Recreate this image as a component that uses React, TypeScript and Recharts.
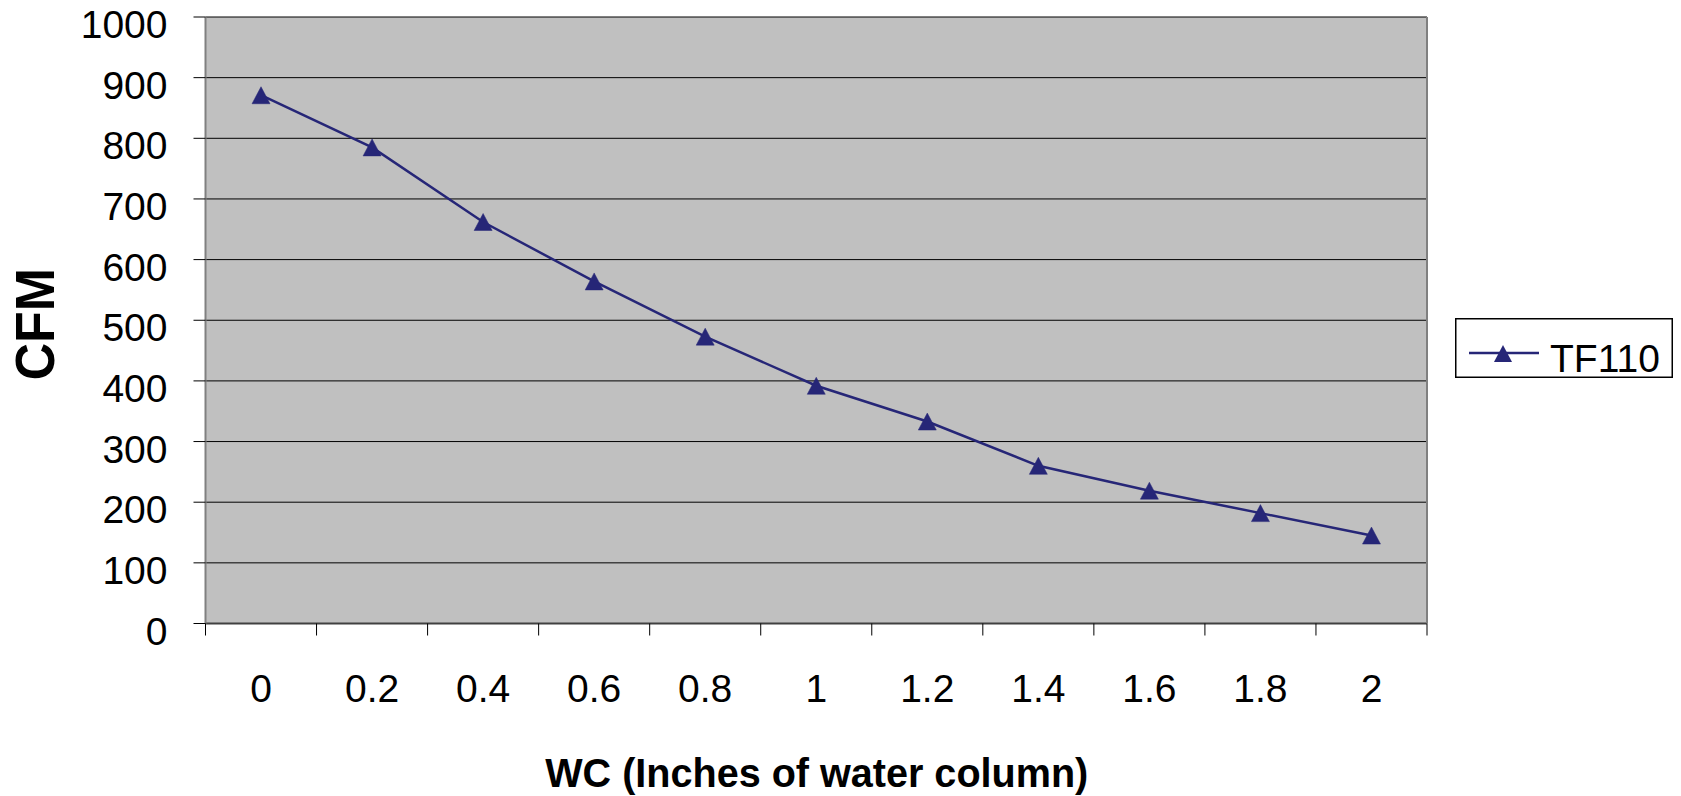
import React from 'react'
import {
  LineChart,
  Line,
  XAxis,
  YAxis,
  CartesianGrid,
  Legend,
  Label,
} from 'recharts'

// WC (inches of water column) categories and CFM readings for TF110
const wcLabels = ['0', '0.2', '0.4', '0.6', '0.8', '1', '1.2', '1.4', '1.6', '1.8', '2']
const tf110Cfm = [871, 785, 662, 564, 473, 392, 333, 260, 219, 182, 145]
const cfmTicks = [0, 100, 200, 300, 400, 500, 600, 700, 800, 900, 1000]
const seriesName = 'TF110'

const data = wcLabels.map((wc, i) => ({ wc, cfm: tf110Cfm[i] }))

const FONT = "'Liberation Sans', Arial, sans-serif"
const NAVY = '#262677'

const TriangleDot = (props: any) => {
  const { cx, cy, index } = props
  if (cx == null || cy == null) return <g key={index} />
  return (
    <path
      key={index}
      d={`M${cx},${cy - 8.5} L${cx + 9},${cy + 8.5} L${cx - 9},${cy + 8.5} Z`}
      fill={NAVY}
      stroke={NAVY}
      strokeWidth={0.5}
    />
  )
}

const YTick = (props: any) => {
  const { x, y, payload } = props
  return (
    <text x={x} y={y + 21} textAnchor="end" fontFamily={FONT} fontSize={39} fill="#000">
      {payload.value}
    </text>
  )
}

// category label plus Excel-style tick marks between the categories
const XTick = (props: any) => {
  const { x, y, payload, index, width, visibleTicksCount } = props
  const count = visibleTicksCount || wcLabels.length
  const band = width ? width / count : 111
  const left = x - band / 2
  const right = x + band / 2
  return (
    <g>
      <line x1={left} y1={y} x2={left} y2={y + 12} stroke="#000" strokeWidth={1} />
      {index === count - 1 && (
        <line x1={right} y1={y} x2={right} y2={y + 12} stroke="#000" strokeWidth={1} />
      )}
      <text x={x} y={y + 78} textAnchor="middle" fontFamily={FONT} fontSize={39} fill="#000">
        {payload.value}
      </text>
    </g>
  )
}

const XTitle = (props: any) => {
  const { viewBox } = props
  const cx = viewBox.x + viewBox.width / 2
  return (
    <text
      x={cx - 271}
      y={viewBox.y + 163}
      fontFamily={FONT}
      fontWeight="bold"
      fontSize={40}
      fill="#000"
      textLength={543}
      lengthAdjust="spacingAndGlyphs"
    >
      WC (Inches of water column)
    </text>
  )
}

const YTitle = (props: any) => {
  const { viewBox } = props
  const cy = viewBox.y + viewBox.height / 2 + 4
  return (
    <text
      transform={`translate(${viewBox.x + 54}, ${cy}) rotate(-90)`}
      x={-56}
      y={0}
      fontFamily={FONT}
      fontWeight="bold"
      fontSize={56}
      fill="#000"
      textLength={112}
      lengthAdjust="spacingAndGlyphs"
    >
      CFM
    </text>
  )
}

const LegendBox = () => (
  <svg width={222} height={62} style={{ display: 'block', overflow: 'visible' }}>
    <rect x={0.75} y={0.75} width={216.5} height={58.5} fill="#fff" stroke="#000" strokeWidth={1.5} />
    <line x1={14} y1={35} x2={84} y2={35} stroke={NAVY} strokeWidth={2.5} />
    <path d="M48,27 L57,44 L39,44 Z" fill={NAVY} />
    <text x={95} y={54} fontFamily={FONT} fontSize={39} fill="#000">
      {seriesName}
    </text>
  </svg>
)

export default function App() {
  return (
    <div style={{ position: 'absolute', left: 0, top: 0, background: '#fff' }}>
      <LineChart
        width={1681}
        height={796}
        data={data}
        margin={{ top: 17, right: 253, bottom: 0, left: 0 }}
      >
        <CartesianGrid
          xAxisId="cat"
          yAxisId="left"
          vertical={false}
          stroke="#000"
          strokeWidth={1}
          fill="#C0C0C0"
          fillOpacity={1}
        />
        <XAxis
          xAxisId="cat"
          dataKey="wc"
          scale="band"
          height={172.5}
          interval={0}
          tickLine={false}
          axisLine={{ stroke: '#404040', strokeWidth: 2 }}
          tickSize={0}
          tickMargin={0}
          tick={XTick}
        >
          <Label content={XTitle} />
        </XAxis>
        <YAxis
          yAxisId="left"
          type="number"
          domain={[0, 1000]}
          ticks={cfmTicks}
          width={205.5}
          tickSize={12}
          tickMargin={26}
          tickLine={{ stroke: '#000', strokeWidth: 1 }}
          axisLine={{ stroke: '#808080', strokeWidth: 2 }}
          tick={YTick}
        >
          <Label content={YTitle} />
        </YAxis>
        <YAxis
          yAxisId="right"
          orientation="right"
          type="number"
          domain={[0, 1000]}
          width={1}
          tick={false}
          tickLine={false}
          axisLine={{ stroke: '#808080', strokeWidth: 2 }}
        />
        <Legend
          layout="horizontal"
          align="center"
          verticalAlign="middle"
          wrapperStyle={{ left: 1455, top: 318, width: 222, height: 62 }}
          content={LegendBox}
        />
        <Line
          xAxisId="cat"
          yAxisId="left"
          dataKey="cfm"
          name={seriesName}
          type="linear"
          stroke={NAVY}
          strokeWidth={2.5}
          dot={TriangleDot}
          activeDot={false}
          isAnimationActive={false}
        />
      </LineChart>
    </div>
  )
}
